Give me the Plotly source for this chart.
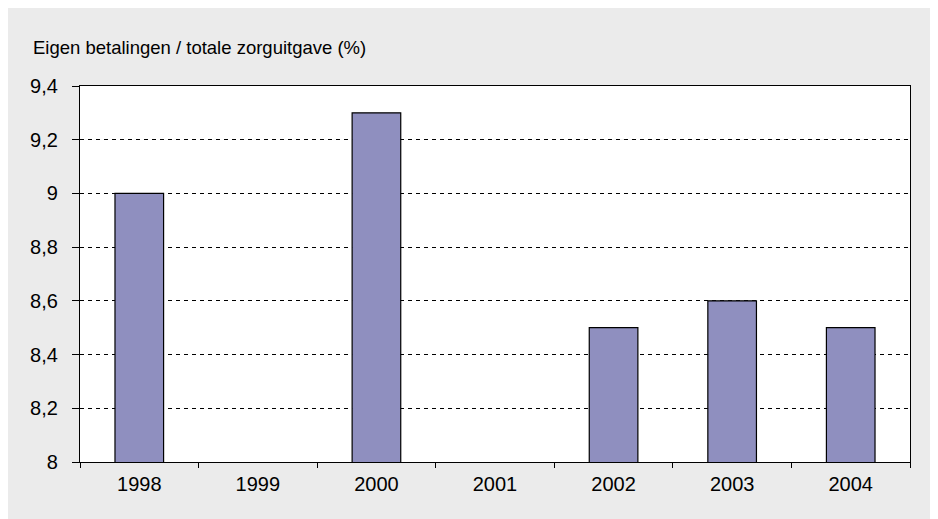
import plotly.graph_objects as go

years = ["1998", "1999", "2000", "2001", "2002", "2003", "2004"]
values = [9.0, None, 9.3, None, 8.5, 8.6, 8.5]
y_ticks = [8, 8.2, 8.4, 8.6, 8.8, 9, 9.2, 9.4]
y_labels = ["8", "8,2", "8,4", "8,6", "8,8", "9", "9,2", "9,4"]
title_text = "Eigen betalingen / totale zorguitgave (%)"

fig = go.Figure(go.Bar(
    x=years, y=values,
    marker=dict(color="#8f8fbf", line=dict(color="#000000", width=1.2)),
))

fig.update_layout(
    width=930, height=511,
    paper_bgcolor="#ebebeb", plot_bgcolor="#ffffff",
    margin=dict(l=72, r=28, t=78, b=57),
    bargap=0.59,
    showlegend=False,
    font=dict(family="Liberation Sans, Arial, sans-serif", size=20, color="#000000"),
    annotations=[dict(text=title_text, xref="paper", yref="paper", x=-0.059, y=1.0,
                      yshift=39, xanchor="left", yanchor="middle", showarrow=False,
                      font=dict(size=18.5, color="#000000"))],
)
fig.update_xaxes(
    type="category", tickson="boundaries", ticks="outside", ticklen=5,
    tickcolor="#000000", showline=True, linecolor="#000000", linewidth=1.2,
    mirror=True, showgrid=False, ticklabelstandoff=4,
)
fig.update_yaxes(
    range=[8, 9.4], tickvals=y_ticks, ticktext=y_labels, ticks="outside", ticklen=7,
    tickcolor="#000000", showline=True, linecolor="#000000", linewidth=1.2, mirror=True,
    showgrid=True, gridcolor="#000000", griddash="4px,4px", gridwidth=0.8,
    zeroline=False, ticklabelstandoff=10,
)
fig.write_html("out.html")
